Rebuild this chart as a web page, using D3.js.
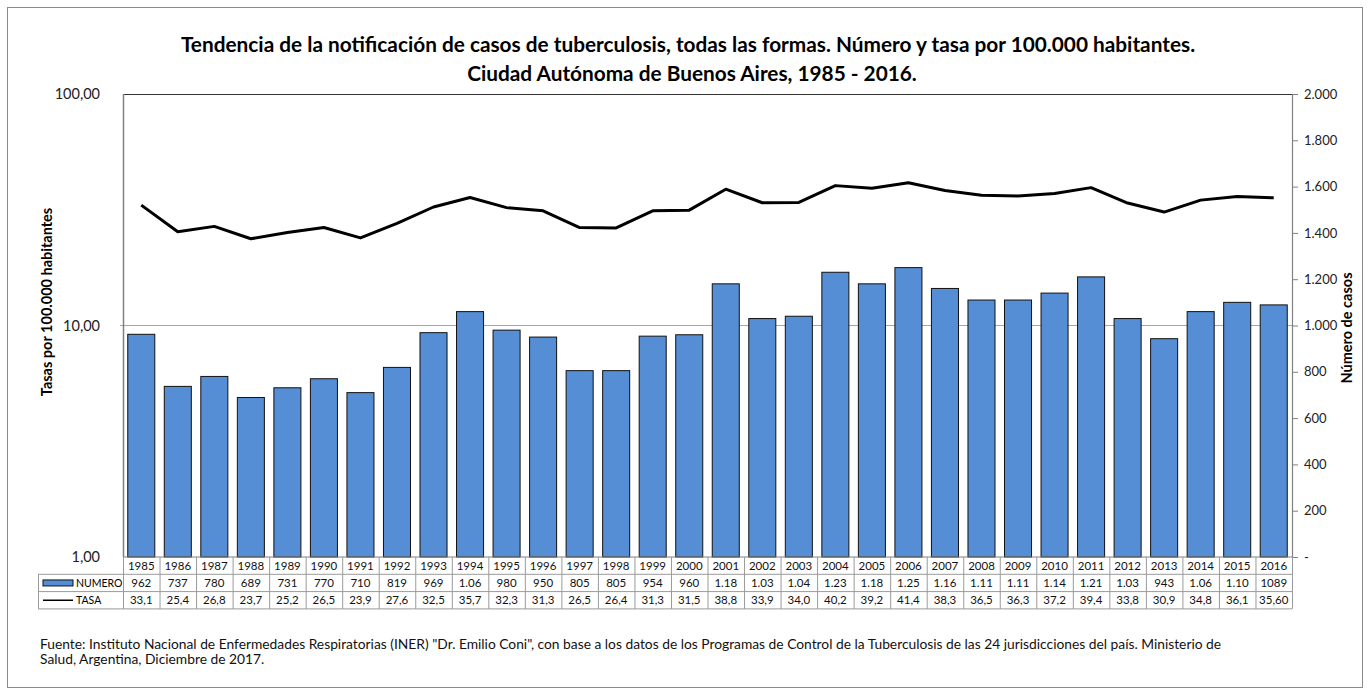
<!DOCTYPE html>
<html>
<head>
<meta charset="UTF-8">
<title>Tuberculosis CABA 1985-2016</title>
<script src="https://cdn.jsdelivr.net/npm/d3@7"></script>
<style>
  body { margin: 0; background: #fff; }
  svg { display: block; font-family: Lato, "Open Sans", sans-serif; }
  .tick text { fill: #222; }
  .cell { font-size: 11.5px; fill: #111; text-anchor: middle; }
</style>
</head>
<body>
<svg width="1370" height="695"></svg>
<script>
// data
var years = [1985,1986,1987,1988,1989,1990,1991,1992,1993,1994,1995,1996,1997,1998,1999,2000,
             2001,2002,2003,2004,2005,2006,2007,2008,2009,2010,2011,2012,2013,2014,2015,2016];
var numero = [962,737,780,689,731,770,710,819,969,1060,980,950,805,805,954,960,
              1180,1030,1040,1230,1180,1250,1160,1110,1110,1140,1210,1030,943,1060,1100,1089];
var numeroLabels = ["962","737","780","689","731","770","710","819","969","1.06","980","950","805","805","954","960",
                    "1.18","1.03","1.04","1.23","1.18","1.25","1.16","1.11","1.11","1.14","1.21","1.03","943","1.06","1.10","1089"];
var tasa = [33.1,25.4,26.8,23.7,25.2,26.5,23.9,27.6,32.5,35.7,32.3,31.3,26.5,26.4,31.3,31.5,
            38.8,33.9,34.0,40.2,39.2,41.4,38.3,36.5,36.3,37.2,39.4,33.8,30.9,34.8,36.1,35.6];
var tasaLabels = ["33,1","25,4","26,8","23,7","25,2","26,5","23,9","27,6","32,5","35,7","32,3","31,3","26,5","26,4","31,3","31,5",
                  "38,8","33,9","34,0","40,2","39,2","41,4","38,3","36,5","36,3","37,2","39,4","33,8","30,9","34,8","36,1","35,60"];
var leftTicks = [1, 10, 100];
var rightTicks = [0,200,400,600,800,1000,1200,1400,1600,1800,2000];

var svg = d3.select("svg");
var plotLeft = 123, plotRight = 1292, plotTop = 94, plotBottom = 557;
var rowH = 17.3;

// outer frame
svg.append("rect").attr("x", 7.5).attr("y", 7.5).attr("width", 1355).attr("height", 680)
    .attr("fill", "none").attr("stroke", "#8a8a8a");

// title
var title = svg.append("text").attr("text-anchor", "middle").attr("font-weight", "bold")
    .attr("font-size", 20.8).attr("fill", "#000");
title.append("tspan").attr("x", 688).attr("y", 52)
    .text("Tendencia de la notificación de casos de tuberculosis, todas las formas. Número y tasa por 100.000 habitantes.");
title.append("tspan").attr("x", 692).attr("y", 81)
    .text("Ciudad Autónoma de Buenos Aires, 1985 - 2016.");

// scales
var x = d3.scaleBand().domain(years).range([plotLeft, plotRight]).padding(0);
var yLog = d3.scaleLog().domain([1, 100]).range([plotBottom, plotTop]);
var yNum = d3.scaleLinear().domain([0, 2000]).range([plotBottom, plotTop]);

// gridline at 10
svg.append("line").attr("x1", plotLeft - 3).attr("x2", plotRight)
    .attr("y1", yLog(10)).attr("y2", yLog(10))
    .attr("stroke", "#a6a6a6").attr("stroke-width", 1.2);

// bars
var barW = x.bandwidth() * 0.74;
svg.append("g").selectAll("rect").data(years).join("rect")
    .attr("x", function (d) { return x(d) + (x.bandwidth() - barW) / 2; })
    .attr("y", function (d, i) { return yNum(numero[i]); })
    .attr("width", barW)
    .attr("height", function (d, i) { return yNum(0) - yNum(numero[i]); })
    .attr("fill", "#558ed5").attr("stroke", "#111").attr("stroke-width", 1);

// plot border
svg.append("line").attr("x1", plotLeft).attr("x2", plotRight).attr("y1", plotTop + 0.5).attr("y2", plotTop + 0.5)
    .attr("stroke", "#333");
svg.append("line").attr("x1", plotLeft + 0.5).attr("x2", plotLeft + 0.5).attr("y1", plotTop).attr("y2", plotBottom)
    .attr("stroke", "#808080").attr("stroke-width", 1.5);
svg.append("line").attr("x1", plotRight + 0.5).attr("x2", plotRight + 0.5).attr("y1", plotTop).attr("y2", plotBottom)
    .attr("stroke", "#808080").attr("stroke-width", 1.2);

// line
var line = d3.line()
    .x(function (d, i) { return x(years[i]) + x.bandwidth() / 2; })
    .y(function (d) { return yLog(d); });
svg.append("path").datum(tasa).attr("d", line)
    .attr("fill", "none").attr("stroke", "#000").attr("stroke-width", 3)
    .attr("stroke-linejoin", "round");

// left axis
var axL = svg.append("g").attr("transform", "translate(" + (plotLeft - 20) + ",0)")
    .call(d3.axisLeft(yLog).tickValues(leftTicks).tickSize(0).tickPadding(3)
        .tickFormat(function (d) { return d3.format(".2f")(d).replace(".", ","); }));
axL.select(".domain").remove();
axL.selectAll(".tick text").attr("font-size", 14.5).attr("font-family", "Lato, sans-serif");

// right axis
var axR = svg.append("g").attr("transform", "translate(" + (plotRight + 1) + ",0)")
    .call(d3.axisRight(yNum).tickValues(rightTicks).tickSize(5).tickPadding(6)
        .tickFormat(function (d) { return d === 0 ? "-" : d3.format(",")(d).replace(",", "."); }));
axR.select(".domain").remove();
axR.selectAll(".tick line").attr("stroke", "#808080");
axR.selectAll(".tick text").attr("font-size", 13).attr("font-family", "Lato, sans-serif");

// axis titles
svg.append("text").attr("transform", "translate(52,302) rotate(-90)")
    .attr("text-anchor", "middle").attr("font-weight", "bold").attr("font-size", 14.5)
    .text("Tasas por 100.000 habitantes");
svg.append("text").attr("transform", "translate(1352,328) rotate(-90)")
    .attr("text-anchor", "middle").attr("font-weight", "bold").attr("font-size", 14.5)
    .text("Número de casos");

// data table
var tbl = svg.append("g");
var r0 = plotBottom, r1 = plotBottom + rowH, r2 = plotBottom + 2 * rowH, r3 = plotBottom + 3 * rowH;
var legL = 38;
var gridCol = "#9a9a9a";
// horizontal lines
[[plotLeft, r0], [legL, r1], [legL, r2], [legL, r3]].forEach(function (h, i) {
    tbl.append("line").attr("x1", h[0]).attr("x2", plotRight).attr("y1", h[1]).attr("y2", h[1])
        .attr("stroke", i === 0 ? "#808080" : gridCol);
});
// vertical lines
years.forEach(function (d) {
    tbl.append("line").attr("x1", x(d) + 0.5).attr("x2", x(d) + 0.5).attr("y1", r0).attr("y2", r3)
        .attr("stroke", gridCol);
});
tbl.append("line").attr("x1", plotRight + 0.5).attr("x2", plotRight + 0.5).attr("y1", r0).attr("y2", r3)
    .attr("stroke", gridCol);
tbl.append("line").attr("x1", legL + 0.5).attr("x2", legL + 0.5).attr("y1", r1).attr("y2", r3)
    .attr("stroke", gridCol);

function rowText(vals, yc) {
    tbl.append("g").selectAll("text").data(vals).join("text")
        .attr("class", "cell")
        .attr("x", function (d, i) { return x(years[i]) + x.bandwidth() / 2; })
        .attr("y", yc + 4)
        .text(function (d) { return d; });
}
rowText(years, (r0 + r1) / 2);
rowText(numeroLabels, (r1 + r2) / 2);
rowText(tasaLabels, (r2 + r3) / 2);

// legend keys
tbl.append("rect").attr("x", 43).attr("y", (r1 + r2) / 2 - 3).attr("width", 30).attr("height", 6)
    .attr("fill", "#558ed5").attr("stroke", "#111");
tbl.append("text").attr("x", 76).attr("y", (r1 + r2) / 2 + 4).attr("font-size", 10.5).text("NUMERO");
tbl.append("line").attr("x1", 43).attr("x2", 73).attr("y1", (r2 + r3) / 2).attr("y2", (r2 + r3) / 2)
    .attr("stroke", "#000").attr("stroke-width", 1.5);
tbl.append("text").attr("x", 76).attr("y", (r2 + r3) / 2 + 4).attr("font-size", 10.5).text("TASA");

// source note
var note = svg.append("text").attr("font-size", 13.8).attr("fill", "#111");
note.append("tspan").attr("x", 40).attr("y", 649)
    .text("Fuente: Instituto Nacional de Enfermedades Respiratorias (INER) \"Dr. Emilio Coni\", con base a los datos de los Programas de Control de la Tuberculosis de las 24 jurisdicciones del país. Ministerio de");
note.append("tspan").attr("x", 40).attr("y", 664)
    .text("Salud, Argentina, Diciembre de 2017.");
</script>
</body>
</html>
